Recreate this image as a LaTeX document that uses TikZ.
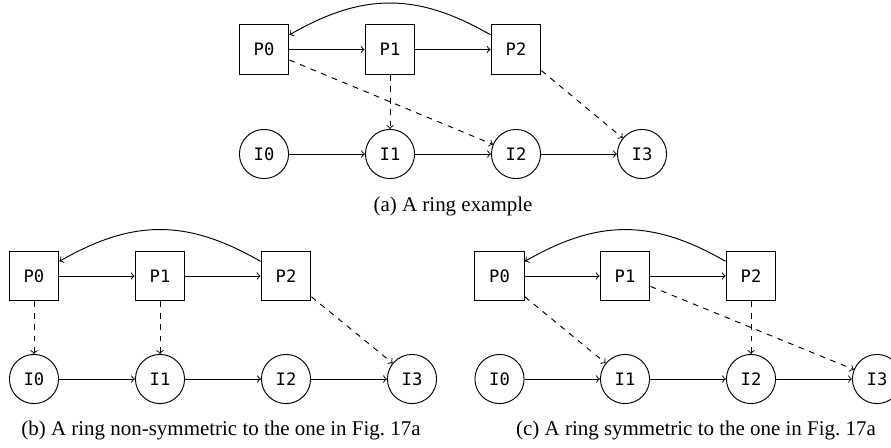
\documentclass[tikz,border=0pt]{standalone}
\usepackage{fontspec}
\setmainfont{Liberation Serif}
\setmonofont{DejaVu Sans Mono}
\begin{document}
\begin{tikzpicture}[x=0.525pt,y=-0.525pt,
  proc/.style={draw,line width=0.5pt,rectangle,minimum size=26.2pt,inner sep=0pt,font=\fontsize{9}{10}\selectfont\ttfamily},
  inst/.style={draw,line width=0.5pt,circle,minimum size=25.8pt,inner sep=0pt,font=\fontsize{9}{10}\selectfont\ttfamily},
  flow/.style={->,line width=0.5pt},
  back/.style={->,line width=0.5pt,bend right=30,looseness=1.08},
  mapto/.style={->,dashed,line width=0.5pt},
  captext/.style={font=\fontsize{11}{13}\selectfont}]
\useasboundingbox (0,0) rectangle (891,447);
% ---- panel (a)
\node[proc] (aP0) at (264,49.5) {P0};
\node[proc] (aP1) at (390,49.5) {P1};
\node[proc] (aP2) at (516,49.5) {P2};
\node[inst] (aI0) at (264,154) {I0};
\node[inst] (aI1) at (390,154) {I1};
\node[inst] (aI2) at (516,154) {I2};
\node[inst] (aI3) at (642,154) {I3};
\draw[flow] (aP0) -- (aP1);
\draw[flow] (aP1) -- (aP2);
\draw[back] (aP2) to (aP0);
\draw[flow] (aI0) -- (aI1);
\draw[flow] (aI1) -- (aI2);
\draw[flow] (aI2) -- (aI3);
\draw[mapto] (aP0) -- (aI2);
\draw[mapto] (aP1) -- (aI1);
\draw[mapto] (aP2) -- (aI3);
\node[captext] (capa) at (453,206) {(a) A ring example};
% ---- panel (b)
\node[proc] (bP0) at (34,276) {P0};
\node[proc] (bP1) at (160,276) {P1};
\node[proc] (bP2) at (286,276) {P2};
\node[inst] (bI0) at (34,379) {I0};
\node[inst] (bI1) at (160,379) {I1};
\node[inst] (bI2) at (286,379) {I2};
\node[inst] (bI3) at (412,379) {I3};
\draw[flow] (bP0) -- (bP1);
\draw[flow] (bP1) -- (bP2);
\draw[back] (bP2) to (bP0);
\draw[flow] (bI0) -- (bI1);
\draw[flow] (bI1) -- (bI2);
\draw[flow] (bI2) -- (bI3);
\draw[mapto] (bP0) -- (bI0);
\draw[mapto] (bP1) -- (bI1);
\draw[mapto] (bP2) -- (bI3);
\node[captext] (capb) at (221,430) {(b) A ring non-symmetric to the one in Fig.~17a};
% ---- panel (c)
\node[proc] (cP0) at (499.5,276) {P0};
\node[proc] (cP1) at (625,276) {P1};
\node[proc] (cP2) at (751,276) {P2};
\node[inst] (cI0) at (499.5,379) {I0};
\node[inst] (cI1) at (625,379) {I1};
\node[inst] (cI2) at (751,379) {I2};
\node[inst] (cI3) at (877,379) {I3};
\draw[flow] (cP0) -- (cP1);
\draw[flow] (cP1) -- (cP2);
\draw[back] (cP2) to (cP0);
\draw[flow] (cI0) -- (cI1);
\draw[flow] (cI1) -- (cI2);
\draw[flow] (cI2) -- (cI3);
\draw[mapto] (cP0) -- (cI1);
\draw[mapto] (cP2) -- (cI2);
\draw[mapto] (cP1) -- (cI3);
\node[captext] (capc) at (696,430) {(c) A ring symmetric to the one in Fig.~17a};
\end{tikzpicture}
\end{document}
